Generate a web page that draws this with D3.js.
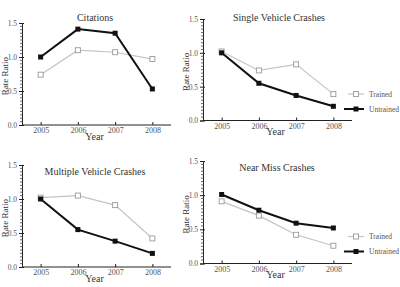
<!DOCTYPE html>
<html><head><meta charset="utf-8">
<script src="https://cdn.jsdelivr.net/npm/d3@7"></script>
<style>body{margin:0;background:#fff}svg{display:block}</style>
</head><body><svg id="c" width="400" height="287"></svg>
<script>
const years = [2005, 2006, 2007, 2008];
const yTicks = [0.0, 0.5, 1.0, 1.5];
const seriesNames = ["Trained", "Untrained"];
const titles = ["Citations", "Single Vehicle Crashes", "Multiple Vehicle Crashes", "Near Miss Crashes"];
const citationsTrained = [0.74, 1.10, 1.07, 0.97];
const citationsUntrained = [1.00, 1.41, 1.35, 0.53];
const singleTrained = [1.02, 0.74, 0.83, 0.39];
const singleUntrained = [1.00, 0.55, 0.37, 0.21];
const multipleTrained = [1.02, 1.05, 0.91, 0.42];
const multipleUntrained = [1.00, 0.55, 0.38, 0.20];
const nearMissTrained = [0.91, 0.70, 0.42, 0.26];
const nearMissUntrained = [1.01, 0.78, 0.59, 0.52];

const panelData = [
  [citationsTrained, citationsUntrained],
  [singleTrained, singleUntrained],
  [multipleTrained, multipleUntrained],
  [nearMissTrained, nearMissUntrained]
];
const layout = [
  {x0: 22, x1: 171, y0: 125, y1: 23, legend: false, tx: 95, ty: 20.5},
  {x0: 203, x1: 352, y0: 120.5, y1: 19, legend: true, tx: 279, ty: 20.5, ly: 94},
  {x0: 22, x1: 171, y0: 267, y1: 165, legend: false, tx: 95, ty: 175},
  {x0: 203, x1: 352, y0: 263.5, y1: 161, legend: true, tx: 277, ty: 170.5, ly: 236.5}
];
const FONT = "'Liberation Serif', 'Tinos', 'DejaVu Serif', 'Times New Roman', serif";
const svg = d3.select("#c");
const trainedLine = "#c4c4c4", trainedMark = "#9a9a9a";

layout.forEach((L, i) => {
  const g = svg.append("g");
  const x = d3.scaleLinear().domain([2004.5, 2008.5]).range([L.x0, L.x1]);
  const y = d3.scaleLinear().domain([0, 1.5]).range([L.y0, L.y1]);

  const ya = d3.axisLeft(y).tickValues(yTicks).tickFormat(d3.format(".1f")).tickSize(3).tickPadding(2);
  const yg = g.append("g").attr("transform", `translate(${L.x0},0)`).call(ya);
  yg.select(".domain").attr("stroke", "#222");
  yg.selectAll(".tick line").attr("stroke", "#222").attr("x2", 2).attr("x1", -3);
  yg.selectAll("text").style("font-size", "7.5px").attr("fill", "#555");
  const minor = d3.range(0, 1.5001, 0.05).filter(v => Math.abs(v * 2 - Math.round(v * 2)) > 1e-6);
  g.append("g").selectAll("line").data(minor).join("line")
    .attr("x1", L.x0 - 2).attr("x2", L.x0 + 1)
    .attr("y1", d => y(d)).attr("y2", d => y(d)).attr("stroke", "#444").attr("stroke-width", 0.8);

  const xa = d3.axisBottom(x).tickValues(years).tickFormat(d3.format("d")).tickSize(3).tickPadding(3);
  const xg = g.append("g").attr("transform", `translate(0,${L.y0})`).call(xa);
  xg.select(".domain").attr("stroke", "#222").attr("d", `M${L.x0},0H${L.x1}`);
  xg.selectAll(".tick line").attr("stroke", "#222").attr("y1", -3).attr("y2", 0);
  xg.selectAll("text").attr("y", 2.5).style("font-size", "8px").attr("fill", "#555");

  g.append("text").attr("x", (L.x0 + L.x1) / 2 - 2).attr("y", L.y0 + 14.5).attr("text-anchor", "middle")
    .style("font-size", "10px").attr("fill", "#333").text("Year");
  g.append("text").attr("transform", `translate(${L.x0 - 14.5},${(L.y0 + L.y1) / 2 + 2}) rotate(-90)`)
    .attr("text-anchor", "middle").style("font-size", "9px").attr("fill", "#333").text("Rate Ratio");
  g.append("text").attr("x", L.tx).attr("y", L.ty).attr("text-anchor", "middle")
    .style("font-size", "10px").attr("fill", "#333").text(titles[i]);

  const line = d3.line().x((d, j) => x(years[j])).y(d => y(d));
  const [tr, un] = panelData[i];
  g.append("path").datum(tr).attr("d", line).attr("fill", "none").attr("stroke", trainedLine).attr("stroke-width", 1.2);
  g.append("path").datum(un).attr("d", line).attr("fill", "none").attr("stroke", "#111").attr("stroke-width", 2);
  g.selectAll(".mt").data(tr).join("rect").attr("class", "mt")
    .attr("x", (d, j) => x(years[j]) - 2.5).attr("y", d => y(d) - 2.5).attr("width", 5).attr("height", 5)
    .attr("fill", "#fff").attr("stroke", trainedMark).attr("stroke-width", 0.9);
  g.selectAll(".mu").data(un).join("rect").attr("class", "mu")
    .attr("x", (d, j) => x(years[j]) - 2.5).attr("y", d => y(d) - 2.5).attr("width", 5).attr("height", 5)
    .attr("fill", "#111");

  if (L.legend) {
    const lx = 348, lx2 = 364;
    const lg = g.append("g");
    lg.append("line").attr("x1", lx).attr("x2", lx2).attr("y1", L.ly).attr("y2", L.ly).attr("stroke", trainedLine).attr("stroke-width", 1.2);
    lg.append("rect").attr("x", (lx + lx2) / 2 - 2.5).attr("y", L.ly - 2.5).attr("width", 5).attr("height", 5)
      .attr("fill", "#fff").attr("stroke", trainedMark).attr("stroke-width", 0.9);
    lg.append("text").attr("x", 369).attr("y", L.ly + 2.5).style("font-size", "7.5px").attr("fill", "#555").text(seriesNames[0]);
    const uy = L.ly + 15;
    lg.append("line").attr("x1", lx - 4).attr("x2", lx2).attr("y1", uy).attr("y2", uy).attr("stroke", "#111").attr("stroke-width", 2);
    lg.append("rect").attr("x", (lx + lx2) / 2 - 2.5).attr("y", uy - 2.5).attr("width", 5).attr("height", 5).attr("fill", "#111");
    lg.append("text").attr("x", 369).attr("y", uy + 2.5).style("font-size", "7.5px").attr("fill", "#555").text(seriesNames[1]);
  }
});
svg.selectAll("g").attr("font-family", null);
svg.selectAll("text").style("font-family", FONT);
</script></body></html>
